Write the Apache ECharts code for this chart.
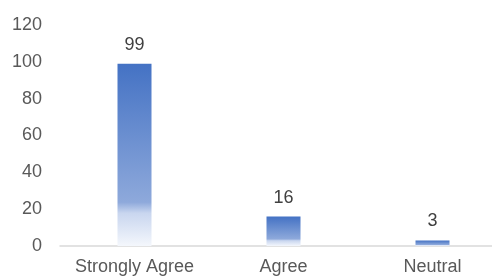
<!DOCTYPE html>
<html>
<head>
<meta charset="utf-8">
<script src="https://cdn.jsdelivr.net/npm/echarts@6/dist/echarts.min.js"></script>
<style>
  html, body { margin: 0; padding: 0; background: #fff; }
  #chart { width: 492px; height: 276px; }
</style>
</head>
<body>
<div id="chart"></div>
<script>
const categories = ['Strongly Agree', 'Agree', 'Neutral']
const counts = [99, 16, 3]
const yTicks = { min: 0, max: 120, step: 20 }

const chart = echarts.init(document.getElementById('chart'))

// Excel-like fill: solid blue at the top fading to white at the base
const barFill = new echarts.graphic.LinearGradient(0, 0, 0, 1, [
  { offset: 0, color: '#4472C4' },
  { offset: 0.76, color: '#8EA9DB' },
  { offset: 0.82, color: '#C9D6EF' },
  { offset: 1, color: '#F4F7FC' }
])

chart.setOption({
  animation: false,
  backgroundColor: '#fff',
  textStyle: { fontFamily: '"Liberation Sans", Arial, sans-serif' },
  grid: { left: 60, top: 25, bottom: 30, right: -15, outerBoundsMode: 'none' },
  xAxis: {
    type: 'category',
    data: categories,
    axisLine: { lineStyle: { color: '#d9d9d9', width: 1.5 } },
    axisTick: { show: false },
    axisLabel: { color: '#595959', fontSize: 18, margin: 12, interval: 0, hideOverlap: false }
  },
  yAxis: {
    type: 'value',
    min: yTicks.min,
    max: yTicks.max,
    interval: yTicks.step,
    axisLine: { show: false },
    axisTick: { show: false },
    splitLine: { show: false },
    axisLabel: { color: '#595959', fontSize: 18, margin: 18 }
  },
  series: [{
    type: 'bar',
    data: counts,
    barWidth: 34,
    itemStyle: { color: barFill },
    label: {
      show: true,
      position: 'top',
      distance: 10,
      color: '#404040',
      fontSize: 18
    }
  }]
})
</script>
</body>
</html>
